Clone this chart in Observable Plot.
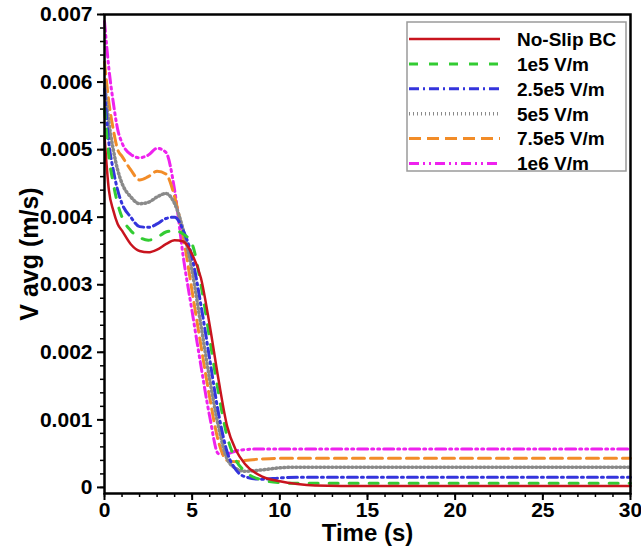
<!DOCTYPE html>
<html><head><meta charset="utf-8">
<script src="https://cdn.jsdelivr.net/npm/d3@7"></script>
<script src="https://cdn.jsdelivr.net/npm/@observablehq/plot@0.6"></script>
<style>body{margin:0;background:#fff;}</style>
</head><body><div id="chart"></div>
<script>
// ---- data ----
const time = [0, 0.25, 0.5, 0.75, 1, 1.5, 2, 2.5, 3, 3.5, 4, 4.5, 5, 5.5, 6, 6.5, 7, 7.5, 8, 9, 10, 11, 12, 15, 20, 25, 30];
const noSlip  = [0.0052, 0.0044, 0.0041, 0.0039, 0.0038, 0.0036, 0.0035, 0.00348, 0.00352, 0.0036, 0.00366, 0.00364, 0.00345, 0.0031, 0.0024, 0.0016, 0.0009, 0.00055, 0.00035, 0.00016, 0.00009, 0.00005, 0.00003, 0.00002, 0.00002, 0.00002, 0.00002];
const e1e5    = [0.0056, 0.0049, 0.0045, 0.0042, 0.0040, 0.0038, 0.0037, 0.00366, 0.0037, 0.00378, 0.0038, 0.00375, 0.0036, 0.0030, 0.0022, 0.0014, 0.00075, 0.0004, 0.00024, 0.00011, 0.00007, 0.00006, 0.00006, 0.00006, 0.00006, 0.00006, 0.00006];
const e25e5   = [0.0059, 0.0051, 0.0047, 0.0044, 0.0042, 0.0040, 0.00386, 0.00385, 0.0039, 0.00398, 0.0040, 0.0038, 0.0034, 0.0027, 0.0019, 0.0011, 0.00052, 0.00026, 0.00016, 0.00012, 0.00014, 0.00015, 0.00015, 0.00015, 0.00015, 0.00015, 0.00015];
const e5e5    = [0.0060, 0.0054, 0.0050, 0.0047, 0.0045, 0.0043, 0.0042, 0.00422, 0.0043, 0.00435, 0.0042, 0.0038, 0.0032, 0.0024, 0.0016, 0.0009, 0.00042, 0.00028, 0.00024, 0.00026, 0.00029, 0.0003, 0.0003, 0.0003, 0.0003, 0.0003, 0.0003];
const e75e5   = [0.0063, 0.0057, 0.0053, 0.0050, 0.0049, 0.0047, 0.00455, 0.0046, 0.00468, 0.00464, 0.0043, 0.0037, 0.0029, 0.0021, 0.00133, 0.00068, 0.0004, 0.00038, 0.0004, 0.00042, 0.00043, 0.00043, 0.00043, 0.00043, 0.00043, 0.00043, 0.00043];
const e1e6    = [0.0069, 0.0062, 0.0057, 0.0053, 0.0051, 0.00493, 0.00488, 0.00492, 0.00502, 0.00496, 0.0044, 0.0034, 0.0026, 0.0018, 0.00105, 0.0005, 0.0005, 0.00054, 0.00056, 0.00057, 0.00057, 0.00057, 0.00057, 0.00057, 0.00057, 0.00057, 0.00057];

const seriesNames  = ["No-Slip BC", "1e5 V/m", "2.5e5 V/m", "5e5 V/m", "7.5e5 V/m", "1e6 V/m"];
const seriesValues = [noSlip, e1e5, e25e5, e5e5, e75e5, e1e6];
const seriesColors = ["#c8141e", "#33cc33", "#3434dc", "#8a8a8a", "#f28c28", "#ee22ee"];
const seriesDash   = [null, "9,11", "10,4,2,4", "1,3", "12,6", "10,4,2,4,2,4"];
const seriesWidth  = [2.5, 3, 3, 3.5, 3, 3];

const xTicks = [0, 5, 10, 15, 20, 25, 30];
const yTicks = [0, 0.001, 0.002, 0.003, 0.004, 0.005, 0.006, 0.007];
const yTickLabels = ["0", "0.001", "0.002", "0.003", "0.004", "0.005", "0.006", "0.007"];

// ---- build ----
const xMinor = d3.range(0, 31, 1);
const yMinor = d3.range(0, 36).map(i => i * 0.0002);

const rows = seriesNames.flatMap((name, i) => time.map((t, j) => ({t, v: seriesValues[i][j], name})));

const lineMarks = seriesNames.map((name, i) => i).reverse().map(i =>
  Plot.line(rows.filter(r => r.name === seriesNames[i]), {
    x: "t", y: "v", stroke: seriesColors[i], strokeWidth: seriesWidth[i],
    strokeDasharray: seriesDash[i] || undefined, curve: "monotone-x"
  })
);

const font = "'Liberation Sans', Arial, Helvetica, sans-serif";
const chart = Plot.plot({
  width: 641, height: 548,
  marginLeft: 104, marginRight: 11, marginTop: 14, marginBottom: 55,
  style: {fontFamily: font, fontWeight: "bold", color: "black", background: "white"},
  x: {domain: [0, 30], label: null},
  y: {domain: [-0.00009, 0.007], label: null},
  marks: [
    Plot.axisX(xMinor, {tickSize: 4, tickFormat: () => "", strokeWidth: 1.5, label: null}),
    Plot.axisX(xTicks, {tickSize: 7, tickPadding: 2, fontSize: 21, strokeWidth: 2, tickFormat: d => String(d), label: null}),
    Plot.axisY(yMinor, {tickSize: 4, tickFormat: () => "", strokeWidth: 1.5, label: null}),
    Plot.axisY(yTicks, {tickSize: 7, tickPadding: 5, fontSize: 21, strokeWidth: 2, tickFormat: d => yTickLabels[yTicks.indexOf(d)], label: null}),
    ...lineMarks,
    Plot.frame({stroke: "black", strokeWidth: 2.5}),
    Plot.text(["Time (s)"], {frameAnchor: "bottom", dy: 40, lineAnchor: "middle", textAnchor: "middle", fontSize: 24, fontWeight: "bold", fill: "black"}),
    Plot.text(["V avg (m/s)"], {frameAnchor: "left", dx: -75, rotate: -90, textAnchor: "middle", lineAnchor: "middle", fontSize: 25, fontWeight: "bold", fill: "black"})
  ]
});
document.getElementById("chart").appendChild(chart);

// ---- legend inside the plot ----
const svg = d3.select(chart);
const lg = svg.append("g").attr("font-family", font).attr("font-weight", "bold").attr("text-anchor", "start");
lg.append("rect").attr("x", 407).attr("y", 22).attr("width", 219).attr("height", 149)
  .attr("fill", "white").attr("stroke", "#9a9a9a").attr("stroke-width", 1.5);
seriesNames.forEach((name, i) => {
  const cy = 39 + i * 24.9;
  lg.append("line").attr("x1", 409).attr("x2", 500).attr("y1", cy).attr("y2", cy)
    .attr("stroke", seriesColors[i]).attr("stroke-width", seriesWidth[i])
    .attr("stroke-dasharray", seriesDash[i]);
  lg.append("text").attr("x", 517).attr("y", cy).attr("dy", "0.36em").attr("text-anchor", "start")
    .attr("font-size", 19).attr("fill", "black").text(name);
});
</script>
</body></html>
